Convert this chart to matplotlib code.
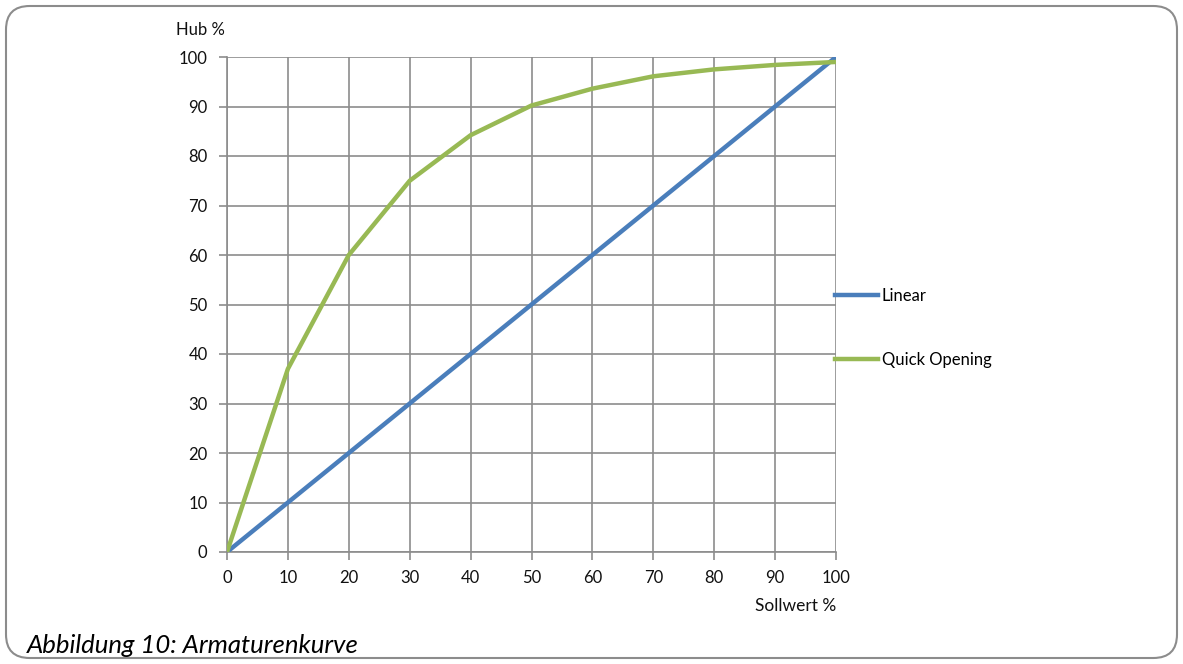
import matplotlib
matplotlib.use("Agg")
import matplotlib.pyplot as plt
from matplotlib.patches import FancyBboxPatch
from matplotlib.lines import Line2D

x_vals = [0, 10, 20, 30, 40, 50, 60, 70, 80, 90, 100]
linear = [0, 10, 20, 30, 40, 50, 60, 70, 80, 90, 100]
quick_opening = [0, 37, 60, 75, 84.2, 90.2, 93.6, 96.1, 97.5, 98.4, 99]
x_ticks = [0, 10, 20, 30, 40, 50, 60, 70, 80, 90, 100]
y_ticks = [0, 10, 20, 30, 40, 50, 60, 70, 80, 90, 100]

plt.rcParams['font.family'] = ['Lato', 'DejaVu Sans']

W, H = 1183, 664
fig = plt.figure(figsize=(W/100, H/100), dpi=100)

# rounded frame
frame = FancyBboxPatch((6/W, 6/H), (1171)/W, (652)/H,
                       boxstyle="round,pad=0,rounding_size=0.02",
                       transform=fig.transFigure, facecolor='none',
                       edgecolor='#8c8c8c', linewidth=1.5, mutation_aspect=W/H,
                       zorder=-5)
fig.patches.append(frame)

ax = fig.add_axes([227/W, 1-552/H, (836-227)/W, (552-57)/H])
ax.set_facecolor('none')

blue = '#4a7ebb'
green = '#98b954'
ax.plot(x_vals, linear, color=blue, lw=3.2, solid_capstyle='butt', zorder=3)
ax.plot(x_vals, quick_opening, color=green, lw=3.2, solid_capstyle='butt', zorder=3)

ax.set_xlim(0, 100)
ax.set_ylim(0, 100)
ax.set_xticks(x_ticks)
ax.set_yticks(y_ticks)
ax.grid(True, color='#8c8c8c', lw=1.2)
for s in ['top', 'right']:
    ax.spines[s].set_visible(False)
for s in ['left', 'bottom']:
    ax.spines[s].set_color('#8c8c8c')
    ax.spines[s].set_linewidth(1.2)
ax.tick_params(axis='both', colors='#8c8c8c', labelcolor='#111111',
               length=6, width=1.2, labelsize=12)
ax.tick_params(axis='x', pad=7)
ax.tick_params(axis='y', pad=8)

fig.text(200/W, 1-30/H, 'Hub %', ha='center', va='center', fontsize=12, color='#111111')
fig.text(796/W, 1-606/H, 'Sollwert %', ha='center', va='center', fontsize=12.5, color='#111111')

handles = [Line2D([], [], color=blue, lw=3.2), Line2D([], [], color=green, lw=3.2)]
leg = fig.legend(handles, ['Linear', 'Quick Opening'], loc='center left',
                 bbox_to_anchor=(835/W, 1-328/H), frameon=False, fontsize=12,
                 handlelength=2.6, handletextpad=0.2, labelspacing=2.9,
                 borderaxespad=0, borderpad=0)

fig.text(27/W, 1-653/H, 'Abbildung 10: Armaturenkurve', ha='left', va='baseline',
         fontsize=18.5, style='italic', color='#000000')

fig.savefig('out.png', dpi=100)
